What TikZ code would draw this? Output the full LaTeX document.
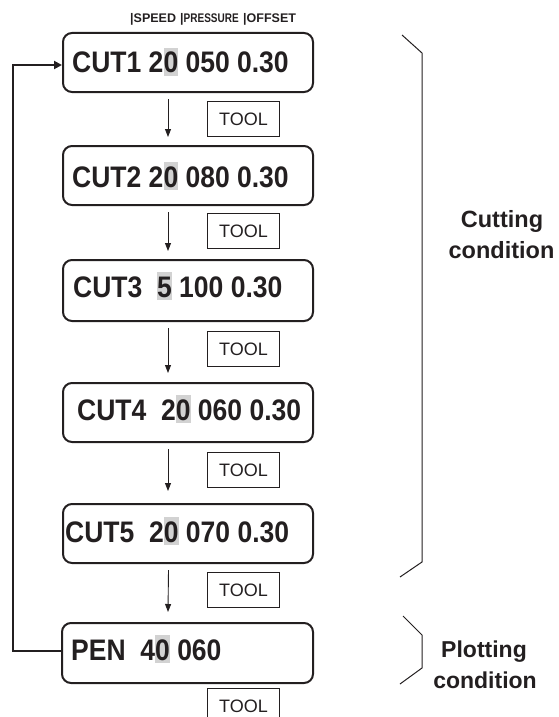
\documentclass[tikz,border=0pt]{standalone}
\usepackage{fontspec}
\setmainfont{Liberation Sans}
\usetikzlibrary{arrows.meta}
\definecolor{ink}{HTML}{231F20}
\definecolor{hlgray}{HTML}{D2D2D2}
\newcommand{\hlbox}[1]{{\setlength{\fboxsep}{0pt}\colorbox{hlgray}{\rule[-2.7pt]{0pt}{25pt}#1}}}
\newcommand{\dsp}{\hspace{0.556em}}
\newcommand{\tallt}[1]{\scalebox{1}[1.12]{#1}}
\begin{document}
\begin{tikzpicture}[x=1pt,y=-1pt,
  condbox/.style={draw=ink, line width=2pt, rounded corners=9pt, inner sep=0pt,
    anchor=north west, minimum width=250pt},
  boxtext/.style={anchor=base west, inner sep=0pt, text=ink,
    font=\bfseries\fontsize{26.5}{30}\selectfont},
  toolbox/.style={draw=ink, line width=1pt, minimum width=72pt, minimum height=35pt,
    inner sep=0pt, anchor=north west, text=ink, font=\fontsize{18}{20}\selectfont},
  arr/.style={draw=ink, line width=0.9pt, -{Triangle[length=8pt,width=6pt]}},
  fb/.style={draw=ink, line width=2pt, -{Triangle[length=8pt,width=8pt]}},
  brk/.style={draw=ink, line width=1pt},
  hdr/.style={anchor=base west, inner sep=0pt, text=ink, font=\bfseries\fontsize{12.5}{14}\selectfont},
  side/.style={anchor=base, inner sep=0pt, text=ink, font=\bfseries\fontsize{23.5}{26}\selectfont}
]
\useasboundingbox (0,0) rectangle (558,717);

% header labels
\node[hdr] (hs) at (130,23) {|SPEED};
\node[hdr] (hp) at (180,23) {|\scalebox{0.8}[1]{PRESSURE}};
\node[hdr] (ho) at (243,23) {|OFFSET};

% condition boxes
\node[condbox, minimum height=59pt] (c1) at (62,32) {};
\node[condbox, minimum height=59pt] (c2) at (62,145) {};
\node[condbox, minimum height=61pt] (c3) at (62,259) {};
\node[condbox, minimum height=59pt] (c4) at (62,382) {};
\node[condbox, minimum height=59pt] (c5) at (62,503) {};
\node[condbox, minimum height=60pt, minimum width=251pt] (pen) at (61,622) {};

% box texts
\node[boxtext] (t1) at (72,73) {\tallt{CUT1 2\hlbox{0} 050 0.30}};
\node[boxtext] (t2) at (72,187) {\tallt{CUT2 2\hlbox{0} 080 0.30}};
\node[boxtext] (t3) at (73,297) {\tallt{CUT3\dsp\hlbox{5} 100 0.30}};
\node[boxtext] (t4) at (77,420) {\tallt{CUT4\dsp 2\hlbox{0} 060 0.30}};
\node[boxtext] (t5) at (65,542) {\tallt{CUT5\dsp 2\hlbox{0} 070 0.30}};
\node[boxtext] (t6) at (71,660) {\tallt{PEN\dsp 4\hlbox{0} 060}};

% tool boxes
\node[toolbox] (k1) at (207,101) {TOOL};
\node[toolbox] (k2) at (207,213) {TOOL};
\node[toolbox] (k3) at (207,331) {TOOL};
\node[toolbox] (k4) at (207,452) {TOOL};
\node[toolbox] (k5) at (207,572) {TOOL};
\node[toolbox] (k6) at (207,688) {TOOL};

% arrows between boxes
\draw[arr] ([xshift=-20pt,yshift=-6pt]c1.south) -- ([xshift=-20pt,yshift=8pt]c2.north);
\draw[arr] ([xshift=-20pt,yshift=-6pt]c2.south) -- ([xshift=-20pt,yshift=8pt]c3.north);
\draw[arr] ([xshift=-20pt,yshift=-6pt]c3.south) -- ([xshift=-20pt,yshift=9pt]c4.north);
\draw[arr] ([xshift=-20pt,yshift=-6pt]c4.south) -- ([xshift=-20pt,yshift=12pt]c5.north);
\draw[arr] ([xshift=-19.5pt,yshift=-6pt]c5.south) -- ([xshift=-19.5pt,yshift=10pt]pen.north);

% feedback
\draw[fb] ([yshift=2pt]pen.west) -- ++(-48,0) coordinate (fbc) |- ([yshift=-2.5pt]c1.west);

% brackets
\draw[brk] (402,35) -- (422,53) -- (422,562) -- (400,577);
\draw[brk] (403,616) -- (422,635) -- (422,668) -- (400,684);

% side labels
\node[side] (cut1) at (502,227) {Cutting};
\node[side] (cut2) at (501.5,258) {condition};
\node[side, font=\bfseries\fontsize{23}{26}\selectfont] (pl1) at (484,657) {Plotting};
\node[side, font=\bfseries\fontsize{23}{26}\selectfont] (pl2) at (485,688) {condition};
\end{tikzpicture}
\end{document}
